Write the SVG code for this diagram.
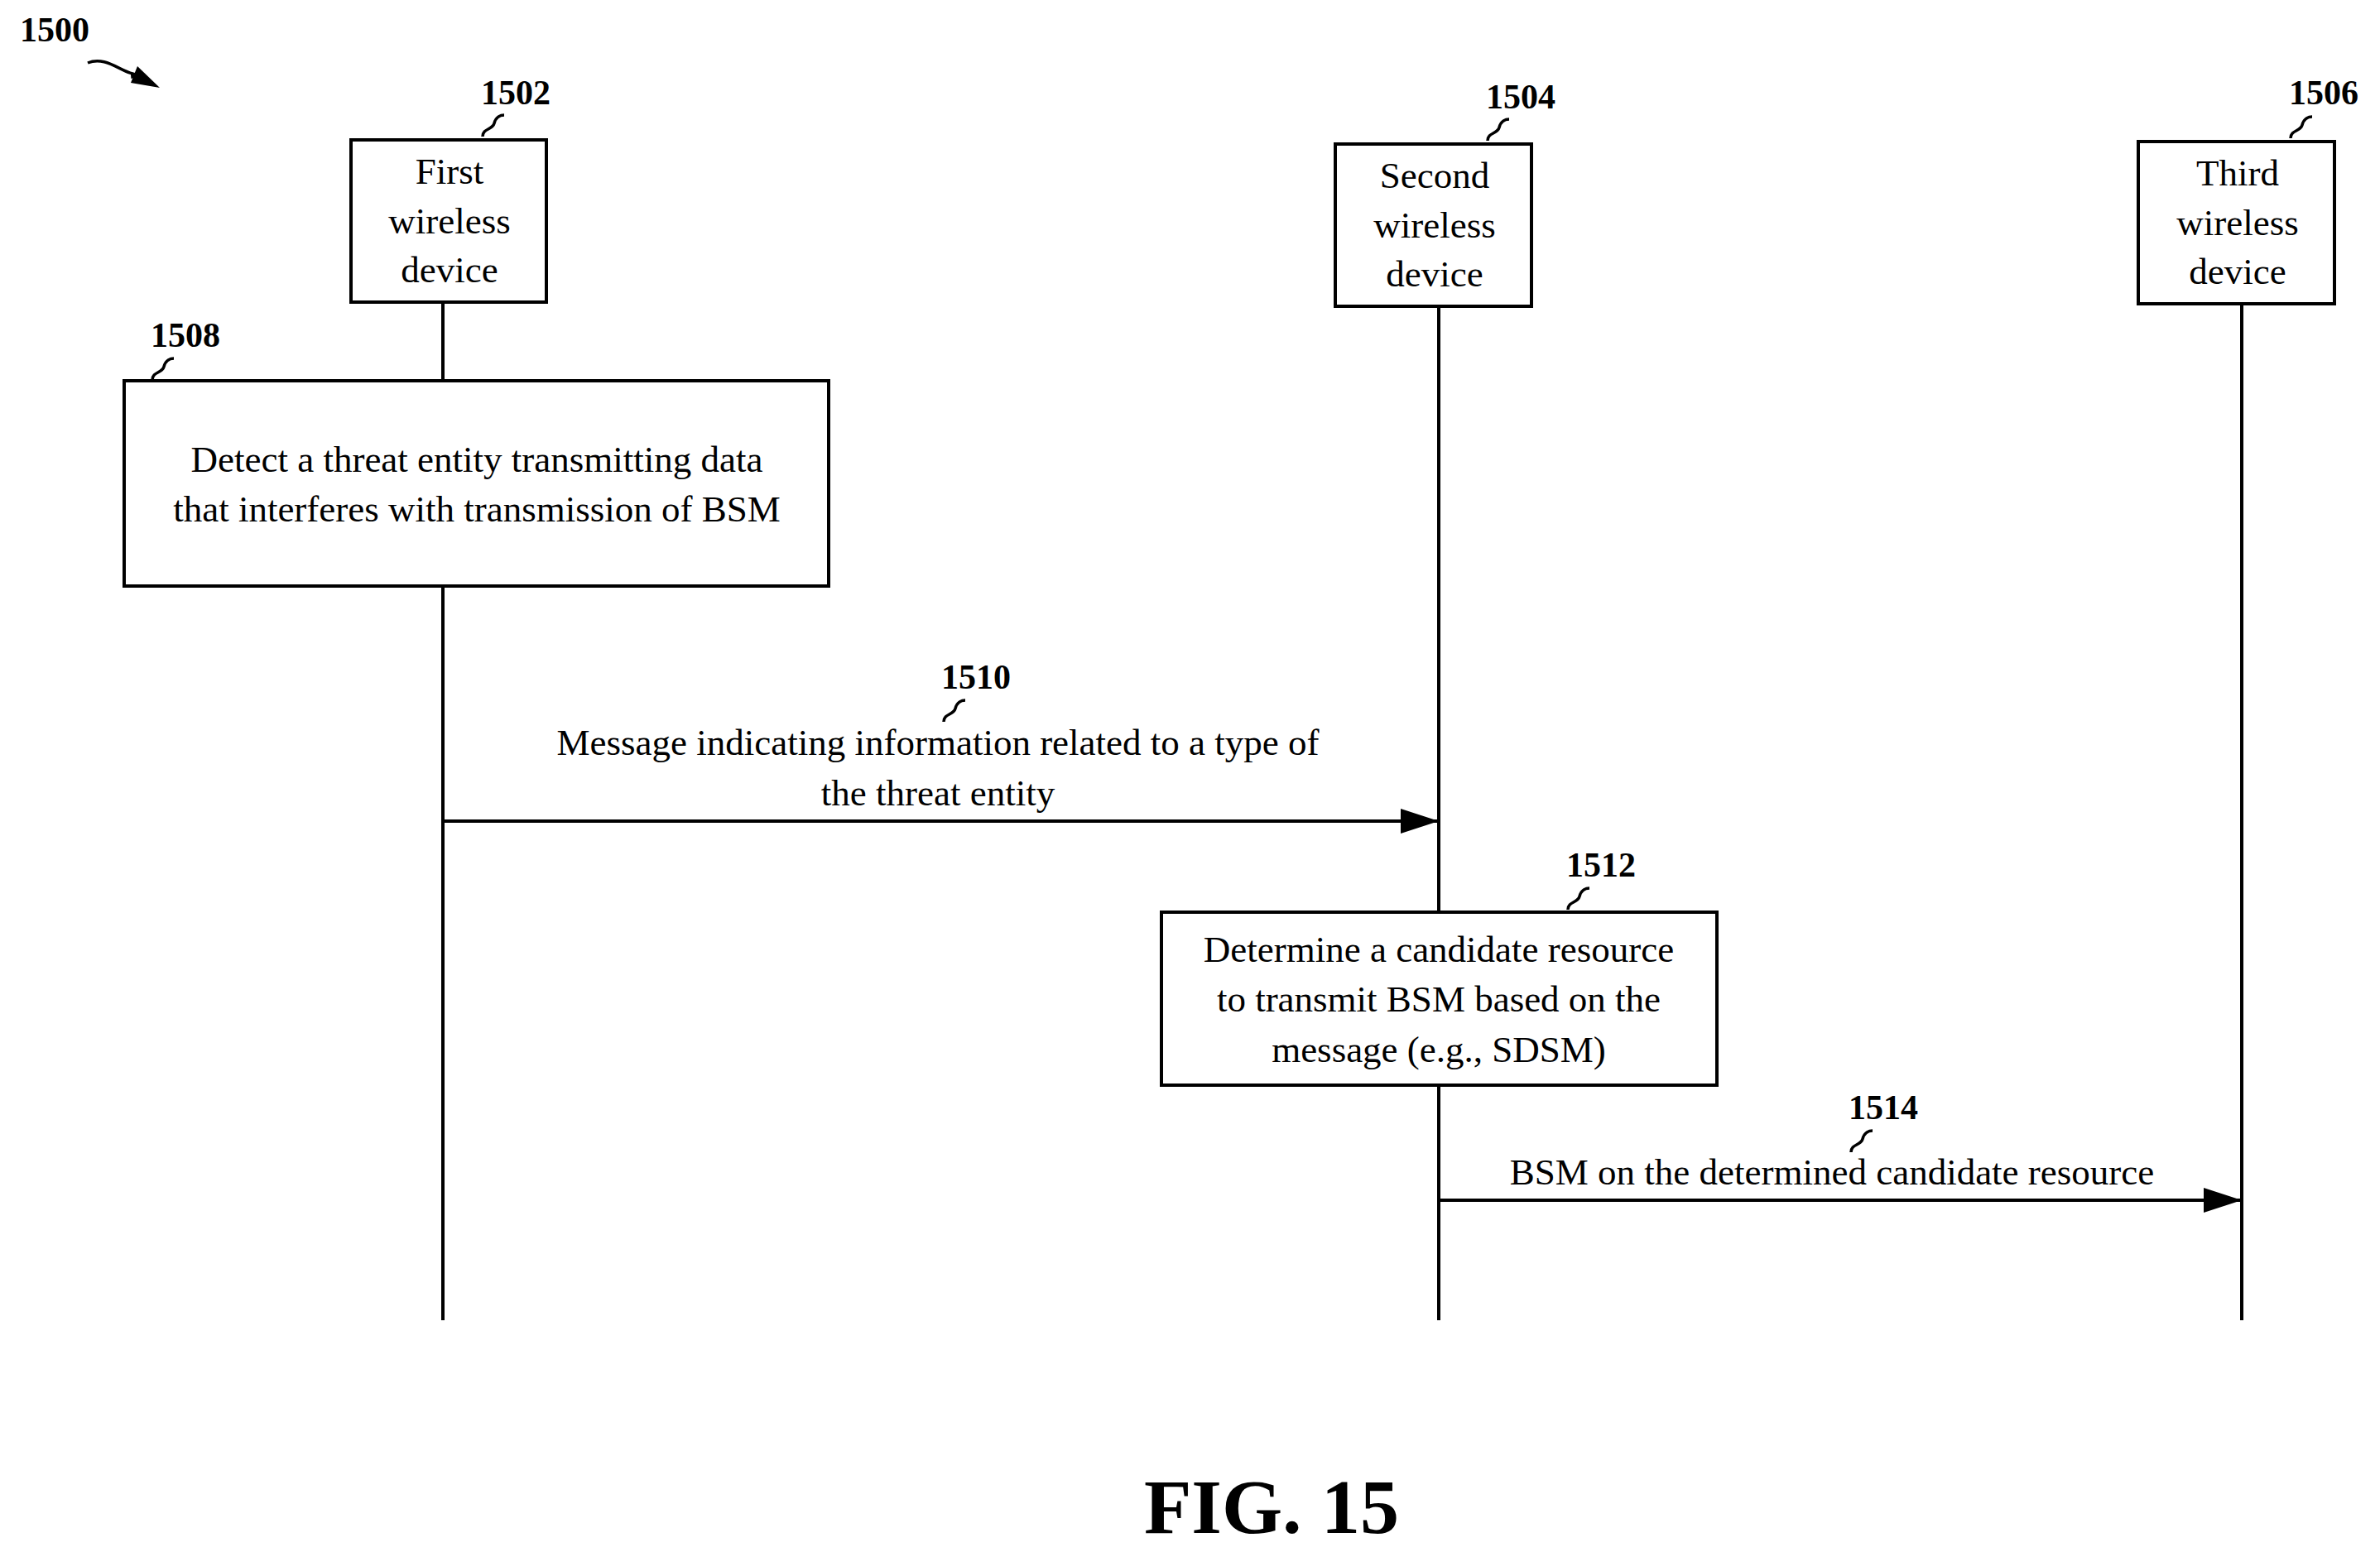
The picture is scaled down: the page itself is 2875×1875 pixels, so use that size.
<svg xmlns="http://www.w3.org/2000/svg" width="2875" height="1875" viewBox="0 0 2875 1875">
<style>
.b{fill:#fff;stroke:#000;stroke-width:4}
.l{stroke:#000;stroke-width:4;fill:none}
.t{font-family:"Liberation Serif",serif;font-size:45px;text-anchor:middle}
.n{font-family:"Liberation Serif",serif;font-size:42px;font-weight:bold;text-anchor:middle}
.s{stroke:#000;stroke-width:3.5;fill:none}
</style>
<defs><marker id="a" viewBox="0 0 10 10" refX="10" refY="5" markerWidth="12" markerHeight="8" markerUnits="userSpaceOnUse" orient="auto" preserveAspectRatio="none"><path d="M0,0L10,5L0,10z"/></marker>
<marker id="a2" viewBox="0 0 10 10" refX="10" refY="5" markerWidth="46" markerHeight="30" markerUnits="userSpaceOnUse" orient="auto" preserveAspectRatio="none"><path d="M0,0L10,5L0,10z"/></marker></defs>
<text class="n" x="66" y="50">1500</text>
<path class="s" d="M106,76 C130,66 150,92 170,90" marker-end="url(#a)"/>
<path d="M166,80 L193,106 L158,100z"/>
<g id="connectors">
<line class="l" x1="535" y1="365" x2="535" y2="1595"/>
<line class="l" x1="1738" y1="370" x2="1738" y2="1595"/>
<line class="l" x1="2708" y1="367" x2="2708" y2="1595"/>
<line class="l" x1="535" y1="992" x2="1738" y2="992" marker-end="url(#a2)"/>
<text class="t" x="1133" y="912">Message indicating information related to a type of</text>
<text class="t" x="1133" y="973">the threat entity</text>
<text class="n" x="1179" y="832">1510</text><path class="s" d="M1140,872 c0,-10 12,-8 14,-16 c2,-8 8,-10 12,-10"/>
<line class="l" x1="1738" y1="1450" x2="2708" y2="1450" marker-end="url(#a2)"/>
<text class="t" x="2213" y="1431">BSM on the determined candidate resource</text>
<text class="n" x="2275" y="1352">1514</text><path class="s" d="M2236,1392 c0,-10 12,-8 14,-16 c2,-8 8,-10 12,-10"/>
</g>
<g id="n1502"><rect class="b" x="424" y="169" width="236" height="196"/>
<text class="t" x="543" y="222">First</text><text class="t" x="543" y="282">wireless</text><text class="t" x="543" y="341">device</text>
<text class="n" x="623" y="126">1502</text><path class="s" d="M583,165 c0,-10 12,-8 14,-16 c2,-8 8,-10 12,-10"/></g>
<g id="n1504"><rect class="b" x="1613" y="174" width="237" height="196"/>
<text class="t" x="1733" y="227">Second</text><text class="t" x="1733" y="287">wireless</text><text class="t" x="1733" y="346">device</text>
<text class="n" x="1837" y="131">1504</text><path class="s" d="M1797,170 c0,-10 12,-8 14,-16 c2,-8 8,-10 12,-10"/></g>
<g id="n1506"><rect class="b" x="2583" y="171" width="237" height="196"/>
<text class="t" x="2703" y="224">Third</text><text class="t" x="2703" y="284">wireless</text><text class="t" x="2703" y="343">device</text>
<text class="n" x="2807" y="126">1506</text><path class="s" d="M2767,167 c0,-10 12,-8 14,-16 c2,-8 8,-10 12,-10"/></g>
<g id="n1508"><rect class="b" x="150" y="460" width="851" height="248"/>
<text class="t" x="576" y="570">Detect a threat entity transmitting data</text><text class="t" x="576" y="630">that interferes with transmission of BSM</text>
<text class="n" x="224" y="419">1508</text><path class="s" d="M184,459 c0,-10 12,-8 14,-16 c2,-8 8,-10 12,-10"/></g>
<g id="n1512"><rect class="b" x="1403" y="1102" width="671" height="209"/>
<text class="t" x="1738" y="1162">Determine a candidate resource</text><text class="t" x="1738" y="1222">to transmit BSM based on the</text><text class="t" x="1738" y="1283">message (e.g., SDSM)</text>
<text class="n" x="1934" y="1059">1512</text><path class="s" d="M1894,1099 c0,-10 12,-8 14,-16 c2,-8 8,-10 12,-10"/></g>
<text x="1536" y="1852" style="font-family:'Liberation Serif',serif;font-size:94px;font-weight:bold;text-anchor:middle">FIG. 15</text>
</svg>
